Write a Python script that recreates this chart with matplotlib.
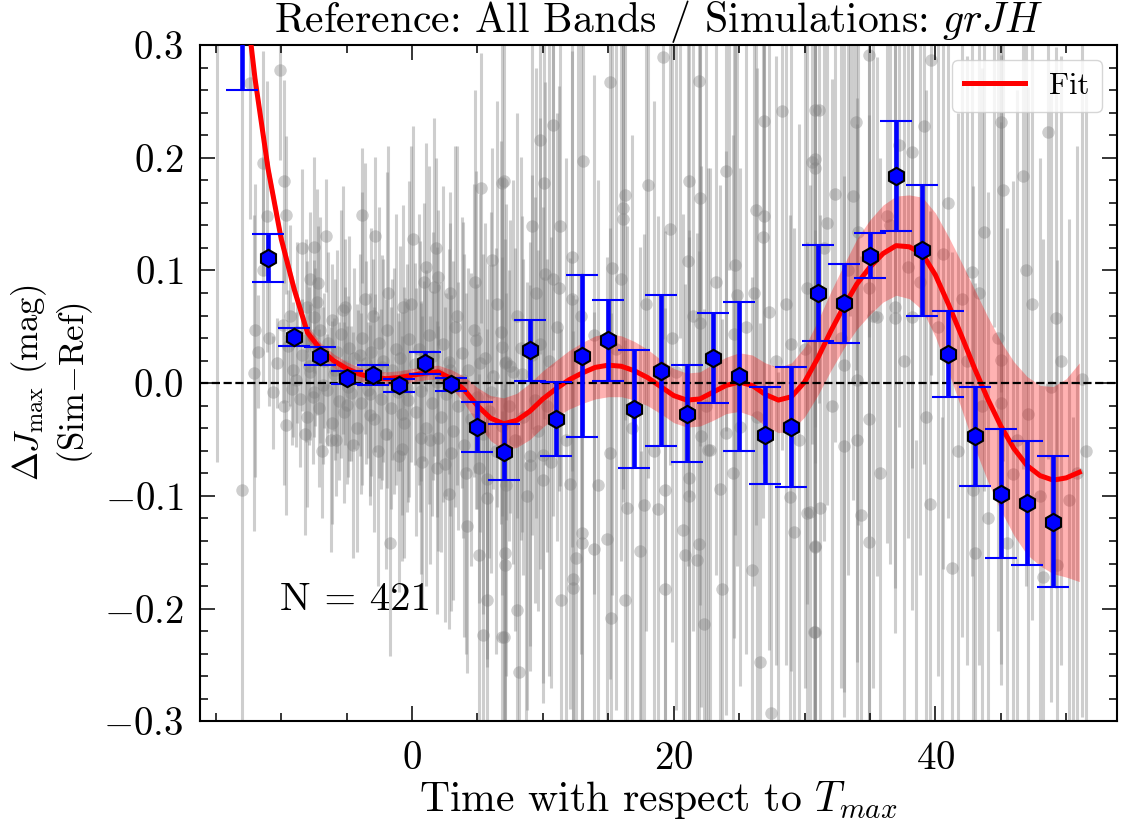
import numpy as np
import matplotlib.pyplot as plt
from matplotlib.ticker import MultipleLocator

plt.rcParams['font.family'] = ['cmr10', 'DejaVu Serif']
plt.rcParams['mathtext.fontset'] = 'cm'
plt.rcParams['axes.formatter.use_mathtext'] = True

# individual simulation residuals (approximate)
t_obs = [
    # dense cluster, positive side
    -11.8, -10.9, -10.3, -9.9, -9.5, -9.1, -8.8, -8.4, -8.1, -7.8, -7.4, -7.0, -6.7, -6.4,
    -6.0, -5.7, -5.4, -5.1, -4.8, -4.4, -4.1, -3.8, -3.5, -3.1, -2.8, -2.5, -2.2, -1.9,
    -1.5, -1.2, -0.9, -0.5, -0.2, 0.2, 0.5, 0.9, 1.3, 1.6, 2.0, 2.4, 2.8, 3.3, 3.8, 4.3,
    4.9, 5.6, 6.2, 6.8, 7.5, 8.4, 9.2,
    # dense cluster, negative side
    -10.6, -9.8, -9.2, -8.6, -8.0, -7.6, -7.1, -6.5, -6.1, -5.6, -5.2, -4.7, -4.2, -3.9,
    -3.4, -2.9, -2.4, -2.0, -1.6, -1.1, -0.6, -0.3, 0.3, 0.7, 1.1, 1.5, 2.2, 2.6, 3.1,
    3.5, 4.0, 4.5, 5.0, 5.4, 5.9, 6.4, 6.9, 7.4, 7.9, 8.5, 9.0, 9.6, 10.3,
    # dense cluster, wider spread
    -9.3, -8.2, -7.3, -6.2, -5.3, -4.5, -3.6, -2.6, -1.8, -1.0, -0.1, 0.8, 1.7, 2.5,
    3.4, 4.1, 4.8, 5.7, 6.5, 7.2, 8.0, 8.8, 9.5, 10.6, -8.9, -7.9, -6.8, -5.9, -4.9,
    -4.0, -3.2, -2.3, -1.4, -0.4, 0.6, 1.9, 2.9, 3.9, 5.2, 6.0, 7.7, 9.4,
    # upper left
    -12.4, -10.1, -11.4, -9.8, -11.1, -9.6, -11.4, -12.0, -12.1, -6.6, -8.4, -7.5, -7.8,
    -7.2, -8.05, -7.5, -3.8, -2.8, -3.0, -5.1, -6.1, -0.7, 0.1, 1.1, 1.8, 0.9, 2.0, 2.9,
    5.3, 6.9, 6.1, 4.7, 6.9, 7.1,
    # upper middle
    19.2, 15.1, 21.9, 10.8, 9.8, 13.1, 7.0, 10.1, 18.0, 21.2, 24.0, 26.9, 28.3, 30.8,
    30.6, 16.3, 22.0, 16.1, 16.1, 9.2, 11.3, 19.7, 26.3, 26.9, 26.8, 12.2, 21.1, 24.7,
    10.2, 15.3, 10.8, 16.0, 11.2, 12.2, 27.3, 24.8, 26.1, 30.2, 11.1, 13.9, 22.0, 24.6,
    29.0, 7.2, 8.3, 9.8,
    # upper right
    34.9, 39.7, 31.1, 33.9, 39.1, 45.0, 48.6, 30.8, 30.8, 37.2, 38.2, 46.7, 45.2, 32.3,
    33.7, 31.7, 36.3, 43.7, 34.1, 40.6, 37.9, 42.8, 34.9, 42.0, 36.9, 35.5, 36.9, 38.2,
    49.2, 33.0, 45.0, 34.0, 51.2,
    # lower left
    -13.0, -9.6, -6.9, -5.8, -7.5, -5.0, -3.2, -0.8, -0.8, -1.7, 0.7, 1.4, 2.0, 1.9,
    2.8, 3.0, 4.2, 5.1, 5.7, 5.1, 5.7, 7.1, 7.1, 5.4, 6.9,
    # lower middle
    8.0, 7.0, 8.2, 9.0, 10.0, 12.1, 13.0, 13.0, 13.9, 12.5, 14.9, 12.3, 12.3, 11.4, 16.3,
    15.2, 15.1, 16.4, 17.7, 18.8, 19.3, 17.4, 19.3, 20.7, 20.9, 21.9, 21.8, 21.2, 21.2,
    22.8, 23.5, 23.7, 22.3, 26.0, 26.6, 27.4, 28.9, 29.2, 30.2, 30.8, 30.7, 10.0, 25.1,
    24.0, 22.1, 22.6,
    # lower right
    34.9, 33.0, 34.0, 31.2, 30.4, 34.3, 30.8, 34.9, 30.8, 39.6, 41.3, 43.0, 42.9, 45.0,
    47.1, 45.9, 45.5, 48.2, 49.3, 50.2, 48.8,
    # late epochs near zero, long bars
    10.5, 11.8, 12.9, 14.2, 15.6, 16.8, 17.9, 18.5, 19.9, 20.2, 21.5, 22.5, 23.2, 24.5,
    25.5, 26.4, 27.8, 28.6, 29.6, 30.0, 31.5, 32.1, 32.8, 33.3, 35.2, 35.8, 36.5, 37.6,
    38.8, 39.3, 40.2, 41.0, 41.7, 42.4, 43.3, 44.0, 44.8, 46.2, 47.4, 48.0, 49.6, 50.8,
    51.5, 46.9, 43.6,
    # centres outside the plotted range
    -14.9, 8.7, 12.7, 17.5, 20.5, 24.2, 28.0, 33.5, 38.5, 40.5, 44.5, 50.5,
]
dm_obs = [
    0.028, 0.040, 0.018, 0.052, 0.033, 0.012, 0.045, 0.025, 0.038, 0.010, 0.032, 0.047, 0.020, 0.036,
    0.008, 0.028, 0.044, 0.015, 0.031, 0.022, 0.005, 0.040, 0.018, 0.028, 0.009, 0.036, 0.020, 0.047,
    0.012, 0.030, 0.022, 0.006, 0.039, 0.017, 0.030, 0.011, 0.043, 0.024, 0.008, 0.035, 0.019, 0.050,
    0.027, 0.012, 0.038, 0.022, 0.006, 0.045, 0.015, 0.008, 0.025,
    -0.008, -0.020, -0.005, -0.014, -0.030, -0.012, -0.022, -0.006, -0.035, -0.016, -0.026, -0.009,
    -0.040, -0.018, -0.006, -0.032, -0.014, -0.045, -0.022, -0.008, -0.035, -0.015, -0.026, -0.007,
    -0.040, -0.018, -0.030, -0.010, -0.042, -0.020, -0.055, -0.032, -0.012, -0.045, -0.025, -0.060,
    -0.038, -0.020, -0.050, -0.030, -0.065, -0.042, -0.020,
    0.060, -0.045, 0.072, -0.050, 0.065, -0.055, 0.075, -0.060, 0.080, -0.065, 0.070, -0.070,
    0.085, -0.072, 0.060, -0.080, 0.090, -0.085, 0.070, -0.090, 0.060, -0.100, 0.080, -0.070,
    0.003, 0.015, -0.002, 0.012, -0.003, 0.025, -0.010, 0.014, 0.002, -0.004, 0.006, 0.001,
    0.012, 0.003, 0.018, -0.008, 0.010, -0.015,
    0.266, 0.278, 0.195, 0.179, 0.148, 0.149, 0.100, 0.047, 0.009, 0.131, 0.120, 0.121, 0.092,
    0.089, 0.068, 0.059, 0.149, 0.131, 0.060, 0.068, 0.056, 0.068, 0.128, 0.103, 0.120, 0.090,
    0.094, 0.080, 0.173, 0.178, 0.109, 0.047, 0.032, 0.018,
    0.289, 0.267, 0.268, 0.229, 0.216, 0.197, 0.179, 0.178, 0.176, 0.179, 0.188, 0.233, 0.241,
    0.242, 0.196, 0.167, 0.164, 0.155, 0.146, 0.139, 0.139, 0.137, 0.154, 0.148, 0.130, 0.112,
    0.108, 0.105, 0.097, 0.102, 0.092, 0.092, 0.084, 0.075, 0.063, 0.078, 0.080, 0.084, 0.050,
    0.043, 0.053, 0.044, 0.035, 0.019, 0.031, 0.035,
    0.291, 0.287, 0.242, 0.232, 0.228, 0.232, 0.223, 0.199, 0.191, 0.211, 0.205, 0.184, 0.171,
    0.168, 0.166, 0.142, 0.148, 0.134, 0.134, 0.115, 0.103, 0.099, 0.084, 0.075, 0.068, 0.059,
    0.058, 0.059, 0.058, 0.016, 0.021, 0.003, 0.004,
    -0.095, -0.037, -0.060, -0.050, -0.008, -0.019, -0.028, -0.027, -0.058, -0.142, -0.049,
    -0.050, -0.049, -0.075, -0.098, -0.062, -0.127, -0.075, -0.102, -0.152, -0.192, -0.151,
    -0.161, -0.223, -0.225,
    -0.201, -0.225, -0.256, -0.073, -0.086, -0.089, -0.133, -0.142, -0.147, -0.155, -0.138,
    -0.174, -0.182, -0.192, -0.192, -0.208, -0.062, -0.111, -0.108, -0.112, -0.095, -0.149,
    -0.183, -0.130, -0.152, -0.143, -0.157, -0.084, -0.100, -0.059, -0.094, -0.183, -0.214,
    -0.166, -0.247, -0.293, -0.101, -0.132, -0.115, -0.144, -0.221, -0.064, -0.039, -0.044,
    -0.047, -0.059,
    -0.032, -0.056, -0.050, -0.111, -0.114, -0.117, -0.145, -0.141, -0.221, -0.107, -0.164,
    -0.151, -0.095, -0.018, -0.027, -0.081, -0.142, -0.172, -0.161, -0.104, -0.003,
    0.02, -0.05, 0.06, -0.09, 0.03, -0.04, 0.07, -0.06, 0.04, 0.01, 0.06, -0.02, 0.09, -0.08,
    0.05, -0.03, 0.02, 0.07, -0.05, 0.03, 0.12, -0.02, 0.04, 0.10, 0.06, -0.08, 0.14, 0.02,
    0.09, -0.03, 0.05, 0.16, -0.06, 0.02, 0.08, -0.12, 0.04, -0.05, 0.07, -0.10, 0.02, -0.08,
    -0.06, 0.10, -0.02,
    0.33, -0.35, 0.38, -0.36, 0.36, 0.40, -0.34, 0.36, -0.38, -0.35, 0.35, -0.33,
]
dm_err = [
    0.05, 0.06, 0.04, 0.07, 0.05, 0.06, 0.08, 0.05, 0.09, 0.06, 0.07, 0.10, 0.06, 0.08,
    0.05, 0.09, 0.11, 0.07, 0.10, 0.08, 0.06, 0.13, 0.09, 0.11, 0.07, 0.12, 0.09, 0.14,
    0.08, 0.12, 0.10, 0.07, 0.14, 0.09, 0.12, 0.08, 0.15, 0.11, 0.08, 0.14, 0.10, 0.16,
    0.12, 0.09, 0.15, 0.12, 0.10, 0.17, 0.13, 0.14, 0.16,
    0.05, 0.07, 0.05, 0.06, 0.08, 0.06, 0.07, 0.05, 0.09, 0.07, 0.08, 0.06, 0.11, 0.08,
    0.06, 0.10, 0.08, 0.12, 0.09, 0.07, 0.12, 0.09, 0.11, 0.08, 0.14, 0.10, 0.12, 0.09,
    0.15, 0.11, 0.17, 0.13, 0.10, 0.16, 0.13, 0.18, 0.15, 0.12, 0.17, 0.14, 0.19, 0.16, 0.13,
    0.08, 0.09, 0.10, 0.10, 0.11, 0.10, 0.12, 0.12, 0.13, 0.12, 0.14, 0.13, 0.15, 0.14,
    0.15, 0.16, 0.17, 0.16, 0.18, 0.17, 0.18, 0.19, 0.20, 0.20, 0.06, 0.07, 0.07, 0.08,
    0.08, 0.09, 0.09, 0.10, 0.10, 0.11, 0.12, 0.12, 0.13, 0.14, 0.15, 0.16, 0.17, 0.18,
    0.12, 0.08, 0.10, 0.09, 0.12, 0.07, 0.10, 0.13, 0.14, 0.05, 0.07, 0.08, 0.06, 0.05,
    0.04, 0.05, 0.06, 0.07, 0.05, 0.06, 0.05, 0.09, 0.10, 0.11, 0.08, 0.07, 0.06, 0.09,
    0.12, 0.14, 0.10, 0.13, 0.15, 0.11,
    0.25, 0.22, 0.30, 0.20, 0.19, 0.24, 0.15, 0.21, 0.26, 0.28, 0.23, 0.27, 0.30, 0.24,
    0.25, 0.20, 0.22, 0.26, 0.24, 0.18, 0.23, 0.21, 0.28, 0.22, 0.25, 0.19, 0.27, 0.24,
    0.17, 0.29, 0.21, 0.25, 0.18, 0.22, 0.30, 0.24, 0.26, 0.28, 0.19, 0.23, 0.25, 0.27,
    0.29, 0.14, 0.17, 0.20,
    0.25, 0.28, 0.26, 0.22, 0.30, 0.24, 0.29, 0.27, 0.23, 0.25, 0.28, 0.26, 0.24, 0.22,
    0.27, 0.25, 0.29, 0.23, 0.26, 0.28, 0.24, 0.27, 0.22, 0.30, 0.25, 0.23, 0.28, 0.26,
    0.24, 0.29, 0.27, 0.25, 0.30,
    0.40, 0.08, 0.06, 0.05, 0.04, 0.07, 0.08, 0.09, 0.10, 0.10, 0.12, 0.11, 0.10, 0.13,
    0.12, 0.14, 0.13, 0.12, 0.15, 0.16, 0.17, 0.18, 0.16, 0.19, 0.20,
    0.20, 0.22, 0.21, 0.16, 0.18, 0.20, 0.22, 0.24, 0.21, 0.23, 0.25, 0.22, 0.26, 0.24,
    0.23, 0.27, 0.20, 0.25, 0.24, 0.26, 0.23, 0.27, 0.25, 0.28, 0.24, 0.26, 0.29, 0.22,
    0.23, 0.25, 0.27, 0.24, 0.28, 0.26, 0.30, 0.29, 0.25, 0.27, 0.24, 0.28, 0.26, 0.22,
    0.23, 0.25, 0.24, 0.25,
    0.27, 0.24, 0.28, 0.26, 0.29, 0.23, 0.27, 0.25, 0.30, 0.26, 0.28, 0.24, 0.27, 0.25,
    0.29, 0.26, 0.28, 0.30, 0.27, 0.25, 0.28,
    0.28, 0.25, 0.30, 0.27, 0.32, 0.26, 0.29, 0.31, 0.27, 0.30, 0.28, 0.33, 0.26, 0.30,
    0.29, 0.31, 0.27, 0.32, 0.28, 0.30, 0.26, 0.29, 0.31, 0.27, 0.33, 0.28, 0.30, 0.32,
    0.26, 0.29, 0.31, 0.28, 0.30, 0.27, 0.33, 0.29, 0.26, 0.31, 0.28, 0.30, 0.27, 0.29,
    0.32, 0.28, 0.30,
    0.40, 0.28, 0.35, 0.30, 0.32, 0.30, 0.35, 0.30, 0.33, 0.32, 0.30, 0.30,
]

# binned means
t_bin = [-13, -11, -9, -7, -5, -3, -1, 1, 3, 5, 7, 9, 11, 13, 15, 17, 19, 21, 23, 25,
         27, 29, 31, 33, 35, 37, 39, 41, 43, 45, 47, 49]
dm_bin = [0.335, 0.111, 0.041, 0.024, 0.005, 0.007, -0.002, 0.018, -0.001, -0.039,
          -0.061, 0.029, -0.032, 0.024, 0.038, -0.023, 0.011, -0.027, 0.022, 0.006,
          -0.046, -0.039, 0.080, 0.071, 0.113, 0.184, 0.118, 0.026, -0.047, -0.098,
          -0.106, -0.123]
err_bin = [0.075, 0.021, 0.008, 0.008, 0.006, 0.009, 0.006, 0.010, 0.006, 0.022,
           0.025, 0.027, 0.033, 0.072, 0.036, 0.052, 0.067, 0.043, 0.040, 0.066,
           0.043, 0.053, 0.043, 0.035, 0.020, 0.049, 0.058, 0.038, 0.044, 0.057,
           0.055, 0.058]

# fit curve and its uncertainty band
fit_t = [-13, -12, -11, -10, -9, -8, -7, -6, -5, -4, -3, -2, -1, 0, 1, 2, 3, 4, 5, 6,
         7, 8, 9, 10, 11, 12, 13, 14, 15, 16, 17, 18, 19, 20, 21, 22, 23, 24, 25, 26,
         27, 28, 29, 30, 31, 32, 33, 34, 35, 36, 37, 38, 39, 40, 41, 42, 43, 44, 45, 46,
         47, 48, 49, 50, 51]
fit_y = [0.370, 0.270, 0.190, 0.128, 0.083, 0.045, 0.030, 0.020, 0.013, 0.008,
         0.005, 0.004, 0.005, 0.007, 0.009, 0.010, 0.004, -0.006, -0.020, -0.031,
         -0.036, -0.033, -0.025, -0.014, -0.005, 0.003, 0.009, 0.014, 0.016, 0.015,
         0.011, 0.005, -0.003, -0.011, -0.015, -0.014, -0.008, -0.002, 0.001, -0.002,
         -0.010, -0.015, -0.012, 0.001, 0.022, 0.046, 0.068, 0.088, 0.103, 0.115,
         0.122, 0.121, 0.115, 0.096, 0.070, 0.042, 0.013, -0.014, -0.038, -0.058,
         -0.073, -0.082, -0.086, -0.084, -0.079]
fit_hw = [0.012, 0.010, 0.009, 0.008, 0.007, 0.006, 0.006, 0.006, 0.006, 0.006,
          0.006, 0.006, 0.006, 0.006, 0.006, 0.006, 0.008, 0.012, 0.016, 0.020,
          0.023, 0.024, 0.025, 0.025, 0.025, 0.026, 0.027, 0.028, 0.028, 0.027,
          0.026, 0.025, 0.024, 0.024, 0.024, 0.024, 0.025, 0.025, 0.026, 0.027,
          0.028, 0.029, 0.030, 0.031, 0.033, 0.035, 0.037, 0.040, 0.042, 0.043,
          0.044, 0.046, 0.050, 0.055, 0.060, 0.065, 0.070, 0.073, 0.075, 0.077,
          0.079, 0.080, 0.083, 0.088, 0.097]

fig = plt.figure(figsize=(11.24, 8.33), dpi=100)
ax = fig.add_axes([0.178, 0.134, 0.816, 0.812])

ax.errorbar(t_obs, dm_obs, yerr=dm_err, fmt='o', color='gray', alpha=0.38,
            ms=9, mew=0, elinewidth=2.2, zorder=1)

fy = np.array(fit_y)
hw = np.array(fit_hw)
ax.fill_between(fit_t, fy - hw, fy + hw, color='red', alpha=0.3, lw=0, zorder=2)
ax.plot(fit_t, fit_y, color='red', lw=3.6, zorder=3, label='Fit')

ax.axhline(0, color='black', ls='--', lw=1.6, zorder=4)

ax.errorbar(t_bin, dm_bin, yerr=err_bin, fmt='h', color='blue', mfc='blue',
            mec='black', mew=1.5, ms=12.5, elinewidth=3.3, capsize=11.5, capthick=3.3,
            zorder=5)

ax.set_xlim(-16.2, 53.9)
ax.set_ylim(-0.3, 0.3)
ax.xaxis.set_major_locator(MultipleLocator(20))
ax.xaxis.set_minor_locator(MultipleLocator(5))
ax.yaxis.set_major_locator(MultipleLocator(0.1))
ax.yaxis.set_minor_locator(MultipleLocator(0.02))
ax.tick_params(which='both', direction='in', top=True, right=True, labelsize=28, width=1.1)
ax.tick_params(which='major', length=11)
ax.tick_params(which='minor', length=6)
ax.tick_params(axis='y', pad=12)
ax.tick_params(axis='x', pad=14)
for s in ax.spines.values():
    s.set_linewidth(1.5)

ax.set_xlabel(r'Time with respect to $T_{max}$', fontsize=30, labelpad=2)
ax.set_ylabel(r'$\Delta J_{\rm max}$ (mag)' + '\n' + r'(Sim$-$Ref)', fontsize=25, labelpad=6)
ax.set_title(r'Reference: All Bands / Simulations: $grJH$', fontsize=30, pad=6)
ax.text(0.087, 0.165, 'N = 421', transform=ax.transAxes, fontsize=29.5)
ax.legend(loc='upper right', fontsize=22, handlelength=2.0, fancybox=True)

fig.savefig('out.png', dpi=100)
